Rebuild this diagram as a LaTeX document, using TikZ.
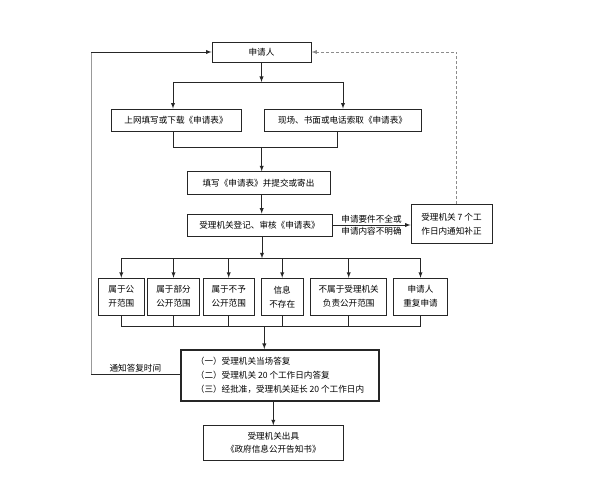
\documentclass[tikz,border=0pt]{standalone}
\usepackage{fontspec}
\setmainfont{Noto Sans CJK SC}
\begin{document}
\begin{tikzpicture}[x=1pt,y=-1pt,>=latex,
  box/.style={draw=black!85,line width=0.9pt,align=center,inner sep=2pt,
    font=\fontsize{8.6}{14}\selectfont},
  line/.style={draw=black!85,line width=0.9pt},
  tag/.style={font=\fontsize{8.6}{12}\selectfont,inner sep=1.5pt}]
\useasboundingbox (0,0) rectangle (607,494);
  % boxes
  \node[box,minimum width=99,minimum height=20] (applicant) at (261.5,52) {申请人};
  \node[box,minimum width=130,minimum height=22] (online) at (176,120) {上网填写或下载《申请表》};
  \node[box,minimum width=157,minimum height=22] (onsite) at (342.5,120) {现场、书面或电话索取《申请表》};
  \node[box,minimum width=143,minimum height=22.5] (submit) at (258.5,183) {填写《申请表》并提交或寄出};
  \node[box,minimum width=145,minimum height=22] (review) at (259.5,225) {受理机关登记、审核《申请表》};
  \node[box,minimum width=81,minimum height=39] (notify) at (451.5,224) {受理机关 7 个工\\作日内通知补正};
  \node[box,minimum width=46,minimum height=37] (b1) at (121.3,296.7) {属于公\\开范围};
  \node[box,minimum width=51.6,minimum height=37] (b2) at (173.5,296.7) {属于部分\\公开范围};
  \node[box,minimum width=50.7,minimum height=37] (b3) at (228.7,296.7) {属于不予\\公开范围};
  \node[box,minimum width=42.3,minimum height=37] (b4) at (282.2,296.7) {信息\\不存在};
  \node[box,minimum width=76,minimum height=37] (b5) at (348.7,296.7) {不属于受理机关\\负责公开范围};
  \node[box,minimum width=54.4,minimum height=37] (b6) at (420.5,296.7) {申请人\\重复申请};
  \node[box,line width=2pt,align=left,minimum width=198.6,minimum height=50.7,
    font=\fontsize{8.6}{14.4}\selectfont] (reply) at (280,375.3)
    {（一）受理机关当场答复\\（二）受理机关 20 个工作日内答复\\（三）经批准，受理机关延长 20 个工作日内};
  \node[box,minimum width=140,minimum height=35,font=\fontsize{8.6}{13}\selectfont] (result) at (273.3,443.2)
    {受理机关出具\\《政府信息公开告知书》};

  % junctions
  \coordinate (split1) at (261.5,82);
  \coordinate (sL) at (173,82);
  \coordinate (sR) at (343,82);
  \coordinate (mL) at (173,147);
  \coordinate (mR) at (337,147);
  \coordinate (mC) at (261.7,147);
  \coordinate (split2) at (262,258.3);
  \coordinate (merge) at (264.3,326.7);
  \coordinate (loop) at (91,374);

  % connectors
  \draw[line,->] (applicant) -- (split1);
  \draw[line] (sL) -- (sR);
  \draw[line,->] (sL) -- (sL |- online.north);
  \draw[line,->] (sR) -- (sR |- onsite.north);
  \draw[line] (mL |- online.south) -- (mL) -- (mR) -- (mR |- onsite.south);
  \draw[line,->] (mC) -- (mC |- submit.north);
  \draw[line,->] (submit.south -| mC) -- (review.north -| mC);
  \draw[line,->] (review.east) -- (review.east -| notify.west)
    node[tag,midway,above] {申请要件不全或}
    node[tag,midway,below] {申请内容不明确};
  \draw[line,->] (review.south -| split2) -- (split2);
  \draw[line] (split2 -| b1) -- (split2 -| b6);
  \foreach \b in {b1,b2,b3,b4,b5,b6}
    \draw[line,->] (split2 -| \b) -- (\b.north);
  \draw[line] (merge -| b1) -- (merge -| b6);
  \foreach \b in {b1,b2,b3,b4,b5,b6}
    \draw[line] (\b.south) -- (merge -| \b);
  \draw[line,->] (merge) -- (merge |- reply.north);
  \draw[line,->] (result.north |- reply.south) -- (result.north);
  \draw[line,black!45,densely dashed,->] ([xshift=5]notify.north) |- (applicant.east);
  \draw[line] (reply.west |- loop) -- (loop) node[tag,midway,above] {通知答复时间};
  \draw[line,black!40] (loop) -- (loop |- applicant.west);
  \draw[line,->] (loop |- applicant.west) -- (applicant.west);
\end{tikzpicture}
\end{document}
